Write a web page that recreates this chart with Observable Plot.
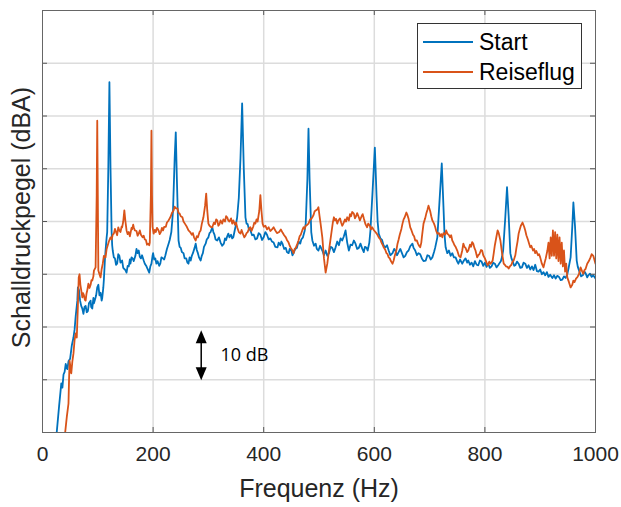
<!DOCTYPE html>
<html>
<head>
<meta charset="utf-8">
<script src="https://cdn.jsdelivr.net/npm/d3@7"></script>
<script src="https://cdn.jsdelivr.net/npm/@observablehq/plot@0.6"></script>
<style>
  html, body { margin: 0; padding: 0; background: white; }
  #wrap { position: relative; width: 621px; height: 507px; }
  #legend {
    position: absolute; left: 417px; top: 23px; width: 163px; height: 64px;
    border: 1px solid #333; background: white;
    font-family: "Liberation Sans", Arial, sans-serif; font-size: 23px; color: #000;
  }
  .row { position: absolute; left: 0; height: 28px; display: flex; align-items: center; }
  .row svg { margin-left: 5px; margin-right: 6px; }
</style>
</head>
<body>
<div id="wrap">
  <div id="chart"></div>
  <div id="legend"></div>
</div>
<script>
// ---- Data: [frequency Hz, level dB] ----
const seriesNames = ["Start", "Reiseflug"];
const seriesColors = ["#0072BD", "#D95319"];

const startPoints = [[24,-2],[30,5],[34,9.3],[36,8.5],[38,11],[40,11.5],[42,13],[45,12],[47,13.5],[50,14],[53,16.5],[56,18],[58,19.5],[60,22],[63,25],[64,27.5],[66,27],[68,25],[70,24],[72,23.5],[74,22.5],[76,23.8],[78,24],[80,22.8],[82,23],[84,24.5],[87,25],[88,23.8],[90,23.5],[92,25.5],[93,24.5],[95,25.2],[97,26],[99,27.5],[101,28],[103,26],[105,26.5],[107,25],[108,25.5],[110,27.5],[111,29],[113,33],[114,34.5],[116,37],[117,38],[119,50],[121,66.4],[123,50],[125,38],[126,35.5],[127,34.5],[129,33.2],[131,33],[133,31.8],[135,32],[137,33.8],[139,33.5],[141,32.2],[144,32.6],[146,31.2],[148,31],[150,30.8],[152,30.3],[154,31.6],[156,31.5],[158,32.8],[159,32],[161,33.2],[163,33],[165,32.5],[168,33.5],[170,34.8],[172,34],[174,34.5],[176,33.3],[178,33],[180,33.6],[183,32.6],[185,32],[188,31.5],[190,31],[193,30.3],[195,31.5],[197,32],[199,33.5],[200,34],[202,32.8],[204,33],[206,32],[208,32.5],[211,31.6],[213,32],[215,33.2],[218,33],[220,32.8],[222,33.5],[225,34.8],[228,35.8],[230,36.5],[233,38],[236,42],[239,52],[241,56.9],[243,48],[246,36.4],[248,35.2],[250,35],[252,34.2],[255,34],[257,33],[260,33],[262,32.2],[264,32],[266,33.2],[268,32.6],[270,33.5],[272,34],[275,35],[277,35.8],[279,34.6],[281,34],[283,33.2],[286,32.6],[288,33.5],[290,34],[292,35.2],[295,35.8],[297,36.6],[300,37],[302,37.8],[304,38],[307,38.9],[309,38],[311,37.5],[313,36.6],[316,36.4],[319,37],[322,36],[325,35.4],[328,35.8],[330,36.8],[332,36.5],[334,37.2],[336,37.7],[338,37],[341,37.5],[343,36.8],[345,37],[347,38],[349,39],[352,40.8],[355,44.5],[358,52],[361,62.4],[364,50],[367,40.8],[369,39.6],[371,39.5],[373,38.6],[376,38.3],[379,37.4],[382,37.5],[385,36.6],[388,36.8],[391,37.8],[394,37.5],[397,36.5],[400,37],[403,38],[406,37.5],[409,36.6],[412,36.8],[415,36.2],[418,36],[421,35.2],[425,35.1],[427,36],[430,35.5],[432,36.2],[434,35.8],[437,34.8],[440,35],[442,34.2],[445,34],[447,34.8],[450,34.5],[452,33.6],[454,34],[457,34.8],[460,35],[463,36.2],[466,35.8],[468,36.6],[471,37],[474,38.2],[476,39.6],[479,48],[481,57.6],[483,48],[486,38],[488,36.4],[491,35.4],[494,35.8],[496,34.8],[499,34.5],[502,35.4],[506,34.5],[509,33.6],[512,34.5],[515,33.5],[518,34],[521,35.2],[524,35],[527,34.2],[530,35.1],[533,36.2],[536,35.5],[539,36.8],[542,36.4],[545,37.2],[548,38.3],[551,36],[554,34.5],[557,35.6],[560,35.5],[563,36.4],[566,35.8],[569,34.8],[572,35],[575,35.8],[578,34.9],[581,34.2],[583,35.2],[586,35],[588,34.5],[591,36],[593,38.3],[597,46],[601,54],[604,45],[606,40],[608,37.7],[611,36.8],[614,36.5],[617,35.4],[620,35.1],[623,35.5],[626,34.5],[629,33.6],[633,34],[636,34.8],[638,34.5],[641,33.6],[644,34.2],[647,34.8],[650,34],[653,33.2],[656,33.5],[659,34.2],[662,34.5],[665,35.3],[669,35.8],[671,35],[674,34.5],[677,33.6],[680,34],[683,33.8],[686,33],[689,32.5],[693,32.6],[696,33.6],[699,33.5],[702,32.8],[705,33.2],[708,34.2],[710,35],[714,37],[718,44],[722,51],[725,43],[727,37.5],[729,35.1],[732,34],[735,34.5],[738,33.5],[741,34],[744,33.2],[747,33.2],[750,32.4],[752,32],[755,32.8],[759,32],[762,32.6],[765,33],[768,32.2],[770,32.6],[773,31.8],[776,32.2],[779,31.5],[782,32.5],[785,31.8],[788,31.7],[791,32.6],[794,32.4],[797,31.6],[800,32.2],[803,31.4],[806,32],[809,31.2],[812,31.5],[815,32.2],[818,32],[821,31.3],[824,31.7],[827,32.2],[829,32.5],[831,33.3],[833,34.5],[837,41],[840,46.5],[843,41],[846,34],[848,33],[850,32.5],[853,31.6],[855,31.7],[858,32.4],[861,32],[864,31.2],[867,31.3],[870,32.2],[873,32],[876,31.2],[879,31.7],[882,30.9],[885,31.5],[888,30.8],[891,31.8],[894,30.6],[897,30.5],[900,30.9],[903,30],[906,30.4],[909,29.8],[912,30.4],[915,29.5],[918,29.9],[922,29.3],[925,29.8],[928,29.2],[931,29.7],[934,29.5],[937,28.9],[940,29],[943,29.6],[946,29.3],[949,30],[951,31],[955,33.2],[958,39],[960,43.6],[963,39],[966,32.6],[968,31.4],[971,30.5],[974,29.6],[977,29.8],[980,30.5],[982,30.2],[985,29.4],[987,29.8],[990,30.1],[993,29.5],[996,29.8],[1000,29.2]];

const reisePoints = [[40,-1],[44,3],[47,5.5],[48,10],[49,13.6],[51,12],[52,11.2],[54,13.5],[56,15],[58,17.5],[60,18.8],[62,18],[64,24],[65.5,29.4],[67,30],[68.5,28],[70,27],[72,25.6],[73.5,26.4],[75,26],[76.5,25.2],[78,25],[79.5,26.3],[81,27],[83,28.2],[85,27.4],[87,28],[88.5,28.9],[90,28.8],[92,29.6],[93,30.7],[96,31.3],[98,45],[99,59.1],[100,45],[101,30.7],[103,30],[105,29.4],[107,31],[109,32],[111,33.5],[114,33.2],[116,34.8],[118,35.5],[120,36.2],[123,37],[125,36.6],[127,37.5],[129,37.7],[131,38.6],[133,38],[135,37.4],[137,38.9],[139,38.3],[141,38],[143,39],[144,38.9],[146,40],[148,42.1],[150,40],[152,38.3],[154,37.6],[156,38],[158,37.2],[159,37.7],[161,38.8],[162,38.5],[164,39.4],[165,38.9],[167,38.3],[170,38.2],[172,37.3],[174,37.7],[176,38.3],[178,37.5],[181,37],[183,37.3],[185,36.6],[187,36.5],[189,35.6],[191,35.8],[193,35.5],[194,36],[196,45],[197,57.2],[198,45],[199,39],[201,37.7],[203,38.4],[205,38],[207,38.8],[210,38.3],[212,37.6],[214,38],[216,38.8],[218,38.3],[220,39],[223,39],[225,39.8],[228,40.2],[230,40.6],[232,41],[234,41.6],[237,42.1],[239,42.8],[241,42.5],[244,42.5],[246,41.6],[248,41.5],[250,41],[253,40.8],[255,40],[258,39.5],[261,39],[264,38.3],[267,38],[270,37.5],[272,37.8],[274,37],[277,36.4],[279,37.2],[281,37],[284,38],[286,38.3],[288,39.5],[291,40.8],[294,43],[296,45.3],[298,42],[300,39.6],[302,39.2],[304,39],[307,38.9],[310,39.8],[312,39.5],[314,40.4],[316,40.2],[318,39.2],[320,39.5],[322,40.2],[325,39.6],[327,40.4],[330,40],[332,41],[334,40.8],[336,40.2],[338,40],[341,40.6],[343,39.6],[345,40.2],[348,39.4],[350,39.8],[352,38.9],[355,38],[358,37.7],[360,38.4],[363,37.5],[365,37],[367,37.3],[369,37.8],[371,38],[374,38.8],[376,38.9],[378,38.2],[381,39],[383,39.8],[385,39.6],[387,40.4],[389,40],[392,42],[394,45],[396,42],[398,39.6],[400,39],[403,39.2],[406,38.5],[409,38.9],[412,38.2],[415,38.5],[418,38.9],[421,38.3],[424,37.8],[428,38],[431,38.5],[434,37.9],[437,37.4],[440,37],[442,36.5],[445,36],[447,35.4],[449,35],[452,34.5],[454,34],[456,34.8],[458,35],[461,35.8],[463,36.4],[465,37.2],[467,37.5],[470,38.4],[472,38.9],[474,38.6],[476,39.2],[479,39.4],[481,39.6],[484,40.4],[486,40.5],[488,40.8],[490,41.2],[492,41.9],[494,42.1],[497,42.3],[499,42.7],[501,41],[503,39.5],[506,37],[509,33],[512,30.3],[515,32],[518,34.5],[520,36],[522,37.5],[525,39.8],[527,40.8],[529,40.2],[531,40.5],[533,39.6],[535,40.2],[538,40.6],[540,39.8],[542,39.2],[544,39.6],[547,40.4],[549,40],[551,40.8],[554,40.2],[556,41.4],[558,41],[560,41.8],[563,41.5],[565,40.6],[567,41],[569,41.6],[572,40.8],[574,40.2],[577,41],[579,41.4],[581,40.6],[584,39.5],[587,38.9],[589,39.6],[592,39.2],[594,38.5],[596,38.9],[599,38.4],[602,38],[605,37.6],[608,37],[611,36.6],[613,36],[615,35.6],[617,35.1],[620,34.6],[622,34],[624,33.8],[626,33.2],[628,33],[630,32.5],[633,32],[635,32.6],[637,33.5],[640,34.6],[642,35.8],[644,36.6],[646,37.5],[649,38.6],[651,39.6],[653,40.4],[655,40.8],[658,41.7],[660,41.2],[662,40.5],[665,38.9],[667,38.4],[670,37.5],[672,37.2],[674,36.4],[677,36.4],[679,35.8],[681,35.4],[683,35.1],[685,36],[686,37],[689,39.6],[692,40.6],[694,41.5],[696,42.2],[698,43],[701,42],[703,41],[705,40.2],[708,39.6],[710,39],[712,38.2],[714,37.7],[717,37.8],[719,37.2],[721,37.6],[723,37],[725,37.8],[728,37.5],[730,38.3],[732,37.7],[735,37.4],[737,37],[739,37.4],[741,36.4],[743,36],[745,35.5],[747,35.2],[750,34.5],[753,33.5],[756,33.2],[759,34.5],[761,35.8],[763,35.2],[765,35],[768,34.2],[770,34.5],[773,35.6],[775,35.2],[777,36.1],[779,35.8],[781,35],[783,34.5],[786,33.2],[788,33.6],[790,33.8],[793,34.6],[795,34.5],[797,33.6],[800,33],[803,32.2],[805,31.7],[808,32.4],[810,32],[812,32.2],[814,32.6],[816,34],[818,35.5],[821,37.2],[823,38.3],[825,37.8],[828,36.4],[831,34],[834,32],[836,31.8],[838,31.5],[841,31.4],[843,31.1],[846,31.6],[848,31.8],[850,32.4],[852,32.6],[855,33.6],[857,35],[859,36.2],[861,37.7],[863,38.5],[865,39.2],[868,39.8],[871,39],[873,38.3],[875,37.4],[878,36.5],[880,35.8],[882,35.1],[884,35.4],[887,34.5],[889,34.8],[891,34],[893,34.4],[896,33.6],[898,33.8],[900,33.2],[903,32],[906,31.3],[908,32.2],[910,33],[913,34.5],[915,36],[917,33],[919,37],[921,33.5],[923,38.3],[925,33.5],[927,38],[929,33],[931,37.5],[933,32.5],[935,37],[937,32],[939,36],[941,31.5],[943,34.5],[945,30.5],[947,32],[949,29.4],[952,28.5],[955,27.5],[958,28],[960,28.8],[962,28.5],[965,29.2],[967,29.4],[970,30],[973,31.3],[976,30.5],[978,30.1],[980,30.8],[982,31],[985,32],[988,32.5],[991,33.2],[993,33.8],[996,33.5],[1000,32]];

const xTicks = [0, 200, 400, 600, 800, 1000];
const yTicks = [0, 10, 20, 30, 40, 50, 60, 70, 80];
const xLabel = "Frequenz (Hz)";
const yLabel = "Schalldruckpegel (dBA)";
const annoText = "10 dB";
const annoFreq = 287;
const annoLow = 9.9;
const annoHigh = 19.4;
const annoTextFreq = 322;
const annoTextLevel = 14.6;

// ---- Build tables ----
const start = startPoints.map(([f, v]) => ({f, v}));
const reise = reisePoints.map(([f, v]) => ({f, v}));

const headUp = { draw(ctx) { ctx.moveTo(0, 0); ctx.lineTo(-5.5, 13); ctx.lineTo(5.5, 13); ctx.closePath(); } };
const headDown = { draw(ctx) { ctx.moveTo(0, 0); ctx.lineTo(-5.5, -13); ctx.lineTo(5.5, -13); ctx.closePath(); } };

const font = "'Liberation Sans', Arial, sans-serif";
const ink = "#262626";

const chart = Plot.plot({
  width: 621,
  height: 507,
  marginLeft: 42,
  marginRight: 26,
  marginTop: 10,
  marginBottom: 75,
  x: {domain: [0, 1000], axis: null},
  y: {domain: [0, 80], axis: null},
  style: {fontFamily: font, color: ink, background: "white", overflow: "visible"},
  marks: [
    Plot.gridX(xTicks.slice(1, -1), {stroke: "#dcdcdc", strokeOpacity: 1, strokeWidth: 1.5}),
    Plot.gridY(yTicks.slice(1, -1), {stroke: "#dcdcdc", strokeOpacity: 1, strokeWidth: 1.5}),
    Plot.line(start, {x: "f", y: "v", stroke: seriesColors[0], strokeWidth: 1.8, clip: true}),
    Plot.line(reise, {x: "f", y: "v", stroke: seriesColors[1], strokeWidth: 1.8, clip: true}),
    // inward ticks on all four sides
    Plot.ruleX(xTicks, {x: d => d, insetTop: 417, stroke: "#555"}),
    Plot.ruleX(xTicks, {x: d => d, insetBottom: 417, stroke: "#555"}),
    Plot.ruleY(yTicks, {y: d => d, insetRight: 548, stroke: "#555"}),
    Plot.ruleY(yTicks, {y: d => d, insetLeft: 548, stroke: "#555"}),
    Plot.frame({stroke: "#666", strokeWidth: 1}),
    Plot.axisX(xTicks, {tickSize: 0, tickPadding: 14, fontSize: 21, fill: ink, label: null, tickFormat: d => String(d)}),
    Plot.text([xLabel], {frameAnchor: "bottom", dy: 64, text: d => d, fontSize: 25, fill: ink}),
    Plot.text([yLabel], {frameAnchor: "left", textAnchor: "middle", dx: -21, dy: -4, rotate: -90, text: d => d, fontSize: 25, fill: ink}),
    // 10 dB annotation
    Plot.ruleX([annoFreq], {x: d => d, y1: annoLow + 1, y2: annoHigh - 1, stroke: "black", strokeWidth: 1.5}),
    Plot.dot([annoHigh], {x: annoFreq, y: d => d, symbol: headUp, fill: "black", stroke: null}),
    Plot.dot([annoLow], {x: annoFreq, y: d => d, symbol: headDown, fill: "black", stroke: null}),
    Plot.text([annoText], {x: annoTextFreq, y: annoTextLevel, text: d => d, textAnchor: "start", fontSize: 18, fontFamily: "'Open Sans', 'Noto Sans', sans-serif", fill: "black"})
  ]
});
document.getElementById("chart").appendChild(chart);

// ---- Legend overlay ----
const legend = document.getElementById("legend");
seriesNames.forEach((name, i) => {
  const row = document.createElement("div");
  row.className = "row";
  row.style.top = (4 + i * 30) + "px";
  row.innerHTML = `<svg width="50" height="4"><line x1="0" y1="2" x2="50" y2="2" stroke="${seriesColors[i]}" stroke-width="2"/></svg><span>${name}</span>`;
  legend.appendChild(row);
});
</script>
</body>
</html>
